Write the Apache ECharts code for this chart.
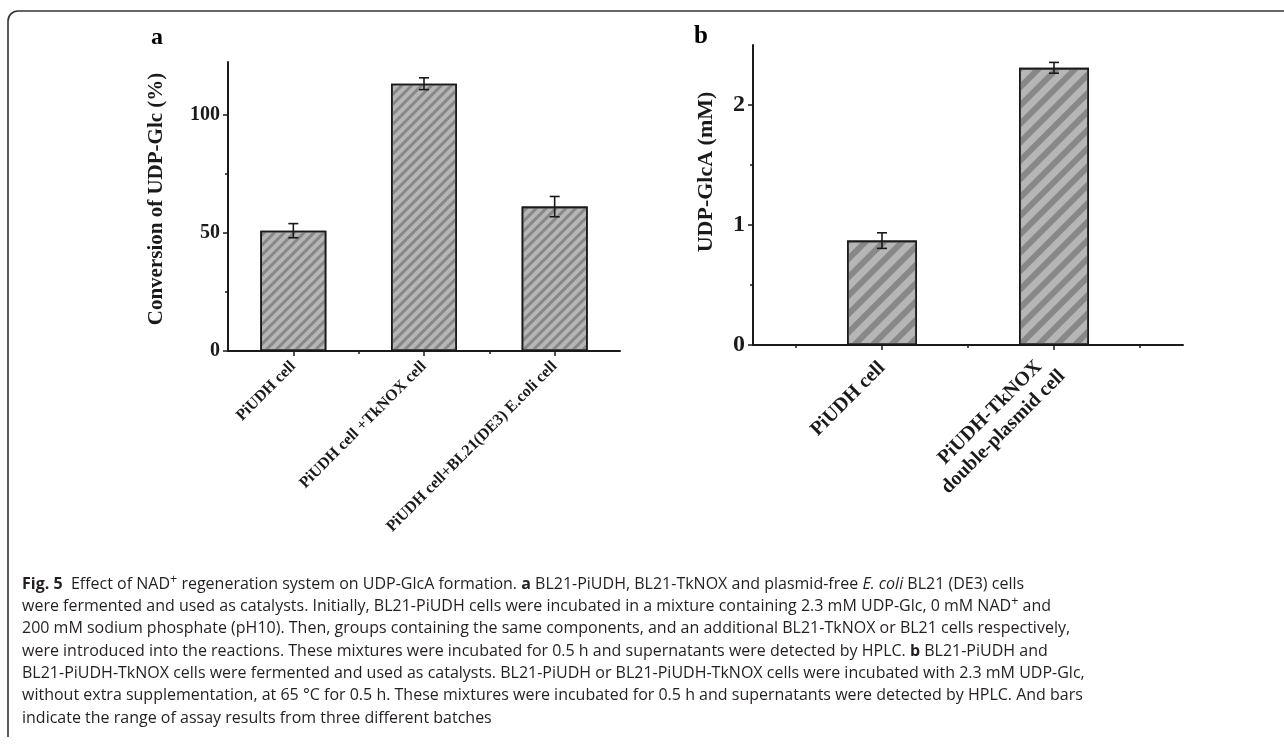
<!DOCTYPE html>
<html>
<head>
<meta charset="utf-8">
<title>Fig. 5</title>
<script src="https://cdn.jsdelivr.net/npm/echarts@6/dist/echarts.min.js"></script>
<style>
    html, body { margin: 0; padding: 0; background: #fff; }
    #chart { width: 1284px; height: 745px; }
</style>
</head>
<body>
<div id="chart"></div>
<script>
// panel a
var catA = ['PiUDH cell', 'PiUDH cell +TkNOX cell', 'PiUDH cell+BL21(DE3) E.coli cell'];
var valA = [51, 113.3, 61.2];
var errA = [3, 2.5, 4.3];
var ticksA = [0, 50, 100];
var minorA = [25, 75];
// panel b
var catB = ['PiUDH cell', 'PiUDH-TkNOX  \ndouble-plasmid cell'];
var valB = [0.87, 2.31];
var errB = [0.065, 0.045];
var ticksB = [0, 1, 2];
var minorB = [0.5, 1.5];

var serif = '"Liberation Serif", "Times New Roman", serif';
var ink = '#1a1a1a';

// caption lines
var caption = [
    '{b|Fig. 5}  Effect of NAD{sup|+} regeneration system on UDP-GlcA formation. {b|a} BL21-PiUDH, BL21-TkNOX and plasmid-free {i|E. coli} BL21 (DE3) cells',
    'were fermented and used as catalysts. Initially, BL21-PiUDH cells were incubated in a mixture containing 2.3 mM UDP-Glc, 0 mM NAD{sup|+} and',
    '200 mM sodium phosphate (pH10). Then, groups containing the same components, and an additional BL21-TkNOX or BL21 cells respectively,',
    'were introduced into the reactions. These mixtures were incubated for 0.5 h and supernatants were detected by HPLC. {b|b} BL21-PiUDH and',
    'BL21-PiUDH-TkNOX cells were fermented and used as catalysts. BL21-PiUDH or BL21-PiUDH-TkNOX cells were incubated with 2.3 mM UDP-Glc,',
    'without extra supplementation, at 65 °C for 0.5 h. These mixtures were incubated for 0.5 h and supernatants were detected by HPLC. And bars',
    'indicate the range of assay results from three different batches'
];

function barData(vals) {
    return vals.map(function (v, i) { return [i + 1, v]; });
}
function errData(vals, errs) {
    return vals.map(function (v, i) { return [i + 1, v - errs[i], v + errs[i]]; });
}
// error bar with caps
function errItem(params, api) {
    var x = api.value(0);
    var top = api.coord([x, api.value(2)]);
    var bot = api.coord([x, api.value(1)]);
    var w = 5;
    var st = { stroke: ink, lineWidth: 1.6 };
    return {
        type: 'group',
        children: [
            { type: 'line', shape: { x1: top[0], y1: top[1], x2: bot[0], y2: bot[1] }, style: st },
            { type: 'line', shape: { x1: top[0] - w, y1: top[1], x2: top[0] + w, y2: top[1] }, style: st },
            { type: 'line', shape: { x1: bot[0] - w, y1: bot[1], x2: bot[0] + w, y2: bot[1] }, style: st }
        ]
    };
}
function hatch(gap) {
    return {
        symbol: 'rect',
        symbolSize: 1,
        dashArrayX: [1, 0],
        dashArrayY: [gap, gap + 1],
        rotation: -Math.PI / 4,
        color: 'rgba(110,110,110,0.65)'
    };
}

var chart = echarts.init(document.getElementById('chart'));

var axisLine = { show: true, lineStyle: { color: ink, width: 2 } };
var minorTick = function (vals) {
    return { show: true, length: 3, customValues: vals, lineStyle: { color: ink, width: 1.5 } };
};

var option = {
    animation: false,
    grid: [
        { left: 228, top: 62, width: 392, height: 289 },
        { left: 753, top: 45, width: 430, height: 300 }
    ],
    xAxis: [
        {   // a, major ticks under the bars
            gridIndex: 0, type: 'value', position: 'bottom', min: 0.5, max: 3.5,
            splitLine: { show: false },
            axisLine: axisLine,
            axisTick: { show: true, length: 5, customValues: [1, 2, 3], lineStyle: { color: ink, width: 1.5 } },
            axisLabel: {
                customValues: [1, 2, 3], rotate: 45, margin: 13,
                color: ink, fontFamily: serif, fontWeight: 'bold', fontSize: 16,
                formatter: function (v) { return catA[Math.round(v) - 1]; }
            }
        },
        {   // a, minor ticks
            gridIndex: 0, type: 'value', position: 'bottom', min: 0.5, max: 3.5,
            splitLine: { show: false },
            axisLine: { show: false },
            axisTick: minorTick([1.5, 2.5]),
            axisLabel: { show: false }
        },
        {   // b
            gridIndex: 1, type: 'value', position: 'bottom', min: 0.25, max: 2.75,
            splitLine: { show: false },
            axisLine: axisLine,
            axisTick: { show: true, length: 5, customValues: [1, 2], lineStyle: { color: ink, width: 1.5 } },
            axisLabel: {
                customValues: [1, 2], rotate: 45, margin: 20,
                color: ink, fontFamily: serif, fontWeight: 'bold', fontSize: 20, lineHeight: 23,
                formatter: function (v) { return catB[Math.round(v) - 1]; }
            }
        },
        {
            gridIndex: 1, type: 'value', position: 'bottom', min: 0.25, max: 2.75,
            splitLine: { show: false },
            axisLine: { show: false },
            axisTick: minorTick([0.5, 1.5, 2.5]),
            axisLabel: { show: false }
        }
    ],
    yAxis: [
        {
            gridIndex: 0, type: 'value', position: 'left', min: 0, max: 122.5,
            splitLine: { show: false },
            axisLine: axisLine,
            axisTick: { show: true, length: 5, customValues: ticksA, lineStyle: { color: ink, width: 1.5 } },
            axisLabel: { customValues: ticksA, margin: 8, color: ink, fontFamily: serif, fontWeight: 'bold', fontSize: 20 }
        },
        {
            gridIndex: 0, type: 'value', position: 'left', min: 0, max: 122.5,
            splitLine: { show: false },
            axisLine: { show: false },
            axisTick: minorTick(minorA),
            axisLabel: { show: false }
        },
        {
            gridIndex: 1, type: 'value', position: 'left', min: 0, max: 2.5,
            splitLine: { show: false },
            axisLine: axisLine,
            axisTick: { show: true, length: 5, customValues: ticksB, lineStyle: { color: ink, width: 1.5 } },
            axisLabel: { customValues: ticksB, margin: 8, color: ink, fontFamily: serif, fontWeight: 'bold', fontSize: 24 }
        },
        {
            gridIndex: 1, type: 'value', position: 'left', min: 0, max: 2.5,
            splitLine: { show: false },
            axisLine: { show: false },
            axisTick: minorTick(minorB),
            axisLabel: { show: false }
        }
    ],
    series: [
        {
            type: 'bar', xAxisIndex: 0, yAxisIndex: 0, barWidth: 66,
            itemStyle: { color: '#b6b6b6', borderColor: ink, borderWidth: 1.6, decal: hatch(3) },
            data: barData(valA)
        },
        {
            type: 'custom', xAxisIndex: 0, yAxisIndex: 0, renderItem: errItem, z: 5,
            data: errData(valA, errA)
        },
        {
            type: 'bar', xAxisIndex: 2, yAxisIndex: 2, barWidth: 70,
            itemStyle: { color: '#b6b6b6', borderColor: ink, borderWidth: 1.6, decal: hatch(6) },
            data: barData(valB)
        },
        {
            type: 'custom', xAxisIndex: 2, yAxisIndex: 2, renderItem: errItem, z: 5,
            data: errData(valB, errB)
        }
    ],
    graphic: []
};

// frame around the figure
option.graphic.push(
    { type: 'line', shape: { x1: 8, y1: 737, x2: 8, y2: 21 }, style: { stroke: '#333', lineWidth: 1.6 } },
    { type: 'arc', shape: { cx: 18, cy: 21, r: 10, startAngle: Math.PI, endAngle: 1.5 * Math.PI }, style: { stroke: '#333', lineWidth: 1.6, fill: null } },
    { type: 'line', shape: { x1: 18, y1: 11, x2: 1284, y2: 11 }, style: { stroke: '#333', lineWidth: 1.6 } }
);

// panel letters and axis titles
option.graphic.push(
    { type: 'text', x: 151, y: 38, style: { text: 'a', font: 'bold 24px ' + serif, fill: '#000', verticalAlign: 'middle' } },
    { type: 'text', x: 694, y: 37, style: { text: 'b', font: 'bold 25px ' + serif, fill: '#000', verticalAlign: 'middle' } },
    { type: 'text', x: 157, y: 199, rotation: Math.PI / 2, style: { text: 'Conversion of UDP-Glc (%)', font: 'bold 21px ' + serif, fill: ink, align: 'center', verticalAlign: 'middle' } },
    { type: 'text', x: 706, y: 172, rotation: Math.PI / 2, style: { text: 'UDP-GlcA (mM)', font: 'bold 22px ' + serif, fill: ink, align: 'center', verticalAlign: 'middle' } }
);

// caption
var capFont = '"Open Sans", "Noto Sans", sans-serif';
caption.forEach(function (line, i) {
    option.graphic.push({
        type: 'text', x: 22, y: 584 + i * 22.3, scaleX: 0.97,
        style: {
            text: line,
            font: '16.5px ' + capFont,
            fill: '#231f20',
            verticalAlign: 'middle',
            rich: {
                b: { fontFamily: capFont, fontSize: 16.5, fontWeight: 'bold', fill: '#231f20' },
                i: { fontFamily: capFont, fontSize: 16.5, fontStyle: 'italic', fill: '#231f20' },
                sup: { fontFamily: capFont, fontSize: 13, fill: '#231f20', padding: [0, 0, 10, 0] }
            }
        }
    });
});

chart.setOption(option);
</script>
</body>
</html>
